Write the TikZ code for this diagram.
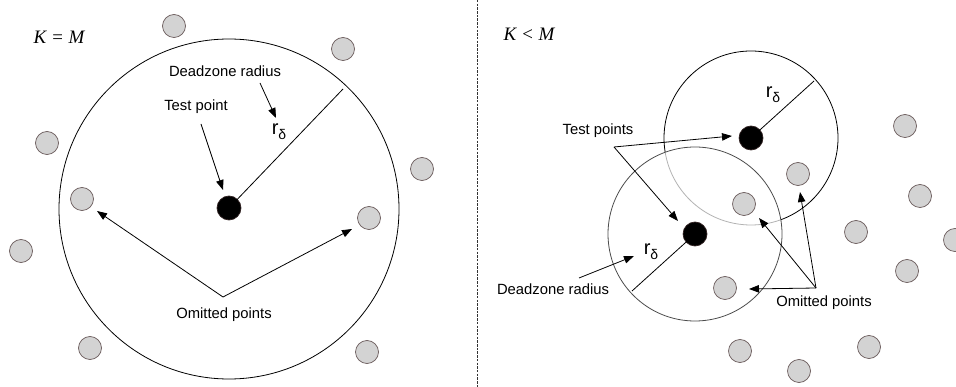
\documentclass[tikz,border=0pt]{standalone}
\usepackage{fontspec}
\setmainfont{Liberation Sans}
\newfontfamily\serifit{Liberation Serif}
\usetikzlibrary{arrows.meta}
\definecolor{ptedge}{RGB}{105,90,90}
\definecolor{ptfill}{RGB}{211,211,211}
\definecolor{bedge}{RGB}{50,35,35}
\begin{document}
\begin{tikzpicture}[x=1pt,y=-1pt,
  gpt/.style={circle,minimum size=23pt,inner sep=0pt,fill=ptfill,draw=ptedge,line width=0.7pt},
  bpt/.style={circle,minimum size=24pt,inner sep=0pt,fill=black,draw=bedge,line width=0.7pt},
  lbl/.style={inner sep=1pt,font=\fontsize{14.8}{17}\selectfont},
  rlbl/.style={inner sep=0pt,font=\fontsize{20}{22}\selectfont},
  arr/.style={-{Triangle[length=10pt,width=7.5pt]},line width=0.8pt},
  ln/.style={line width=0.8pt},
  hdr/.style={inner sep=1pt,font=\fontsize{19}{21}\serifit\itshape}]
\useasboundingbox (0,0) rectangle (956,387);
\fill[white] (0,0) rectangle (956,387);

% separator
\coordinate (sepT) at (477,0);
\coordinate (sepB) at (477,387);
\draw[black!80,line width=0.8pt,dash pattern=on 2.5pt off 1.2pt] (sepT) -- (sepB);

% ---------------- left panel ----------------
\node[hdr] (hL) at (59,37) {K = M};
\node[circle,draw,ln,minimum size=340pt,inner sep=0pt] (bigL) at (229,209) {};
\node[bpt] (tpL) at (229,208) {};
\coordinate (rimL) at (343,89);
\draw[ln] (tpL.center) -- (rimL);
\node[rlbl] (rdL) at (279,132) {r\raisebox{-5pt}{\fontsize{14}{14}\selectfont δ}};

\node[gpt] (gL1) at (174,26) {};
\node[gpt] (gL2) at (343,49) {};
\node[gpt] (gL3) at (47,143) {};
\node[gpt] (gL4) at (422,169) {};
\node[gpt] (gL5) at (82,199) {};
\node[gpt] (gL6) at (369,218) {};
\node[gpt] (gL7) at (21,251) {};
\node[gpt] (gL8) at (90,348) {};
\node[gpt] (gL9) at (367,352) {};

\node[lbl] (dzL) at (225,71) {Deadzone radius};
\coordinate (dzLs) at (260,83);
\coordinate (dzLe) at (276,118);
\draw[arr] (dzLs) -- (dzLe);

\node[lbl] (tL) at (196,107) {Test point};
\coordinate (tLs) at (201,124);
\coordinate (tLe) at (223,190);
\draw[arr] (tLs) -- (tLe);

\node[lbl] (oL) at (224,315) {Omitted points};
\coordinate (oLv) at (223,297);
\coordinate (oLa) at (97,211);
\coordinate (oLb) at (352,229);
\draw[arr] (oLv) -- (oLa);
\draw[arr] (oLv) -- (oLb);

% ---------------- right panel ----------------
\node[hdr] (hR) at (529,34) {K < M};
\node[circle,draw,ln,minimum size=174pt,inner sep=0pt] (cU) at (751,138) {};
\node[circle,draw=black!70,ln,fill=white,fill opacity=0.7,minimum size=174pt,inner sep=0pt] (cD) at (695,234) {};
\node[bpt] (tpU) at (751,138) {};
\node[bpt] (tpD) at (695,234) {};
\coordinate (rimU) at (814,81);
\coordinate (rimD) at (632,291);
\draw[ln] (tpU.center) -- (rimU);
\draw[ln] (tpD.center) -- (rimD);
\node[rlbl] (rdU) at (773,95) {r\raisebox{-5pt}{\fontsize{14}{14}\selectfont δ}};
\node[rlbl] (rdD) at (651,252) {r\raisebox{-5pt}{\fontsize{14}{14}\selectfont δ}};

\node[gpt] (gR1) at (905,126) {};
\node[gpt] (gR2) at (798,174) {};
\node[gpt] (gR3) at (920,196) {};
\node[gpt] (gR4) at (856,232) {};
\node[gpt] (gR5) at (955,240) {};
\node[gpt] (gR6) at (907,271) {};
\node[gpt] (gR7) at (744,204) {};
\node[gpt] (gR8) at (725,288) {};
\node[gpt] (gR9) at (740,351) {};
\node[gpt] (gR10) at (869,347) {};
\node[gpt] (gR11) at (799,371) {};

\node[lbl] (tR) at (598,131) {Test points};
\coordinate (tRv) at (614,147);
\coordinate (tRa) at (732,136);
\coordinate (tRb) at (678,221);
\draw[arr] (tRv) -- (tRa);
\draw[arr] (tRv) -- (tRb);

\node[lbl] (dzR) at (553,289) {Deadzone radius};
\coordinate (dzRs) at (579,278);
\coordinate (dzRe) at (634,256);
\draw[arr] (dzRs) -- (dzRe);

\node[lbl] (oR) at (824,303) {Omitted points};
\coordinate (oRv) at (816,288);
\coordinate (oRa) at (749,289);
\coordinate (oRb) at (759,218);
\coordinate (oRc) at (800,192);
\draw[arr] (oRv) -- (oRa);
\draw[arr] (oRv) -- (oRb);
\draw[arr] (oRv) -- (oRc);
\end{tikzpicture}
\end{document}
